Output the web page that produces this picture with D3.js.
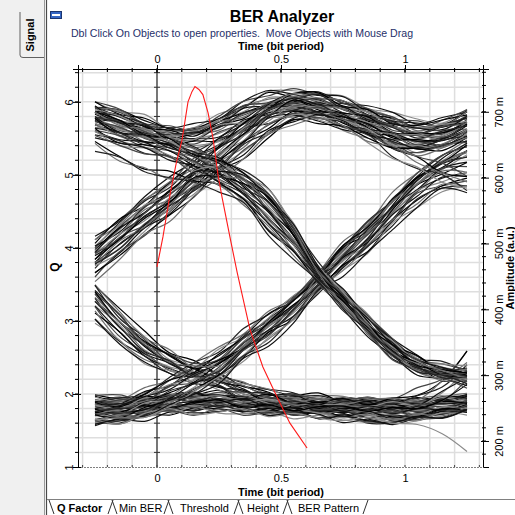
<!DOCTYPE html>
<html><head><meta charset="utf-8">
<script src="https://cdn.jsdelivr.net/npm/d3@7"></script>
<style>
body{margin:0;background:#fff;}
svg{display:block;font-family:"Liberation Sans",Arial,sans-serif;}
</style>
</head><body>
<svg id="c" width="515" height="515"></svg>
<script>
// ---------------- DATA ----------------
const timeTicks = [0, 0.5, 1];
const qTicks = [1, 2, 3, 4, 5, 6];
const ampTicks = [200, 300, 400, 500, 600, 700];
const tabNames = ["Q Factor", "Min BER", "Threshold", "Height", "BER Pattern"];

// times (bit period) at which the trace bundles were read
const sampleTimes = [-0.25,-0.15,-0.05,0.05,0.15,0.25,0.35,0.45,0.55,0.65,0.75,0.85,0.95,1.05,1.15,1.25];

// amplitude envelopes (m a.u.) of each bundle: upper edge / lower edge, and trace positions inside
const highHi   = [714,702,690,680,680,694,714,729,734,730,720,708,695,684,688,702];
const highLo   = [680,668,656,645,642,654,672,688,692,688,676,662,650,642,645,660];
const highFr   = [0,0.04,0.09,0.14,0.19,0.24,0.3,0.35,0.4,0.46,0.52,0.57,0.62,0.68,0.74,0.8,0.86,0.92,0.96,1];

const highFallHi = [706,694,682,672,672,686,704,718,718,710,694,676,655,635,618,605];
const highFallLo = [694,682,670,660,660,674,690,704,704,694,676,655,632,612,596,580];
const highFallFr = [0,0.25,0.5,0.75,1];

const rise1Hi  = [509,539,568,595,626,655,683,712,727,727,717,705,690,680,685,700];
const rise1Lo  = [448,480,511,539,570,602,632,662,683,686,674,660,646,638,642,655];
const rise1Fr  = [0,0.04,0.08,0.12,0.17,0.21,0.26,0.3,0.35,0.4,0.45,0.5,0.55,0.6,0.65,0.7,0.75,0.8,0.85,0.9,0.95,1];

const riseFallHi = [495,525,555,580,608,618,605,578,530,462,422,384,350,326,314,308];
const riseFallLo = [465,495,525,552,585,600,588,560,512,448,410,370,336,312,298,292];
const riseFallFr = [0,0.2,0.4,0.6,0.8,1];

const fall1Hi  = [702,689,677,664,645,630,608,577,527,467,429,391,353,327,315,311];
const fall1Lo  = [664,648,638,626,611,592,565,527,489,441,406,361,326,305,292,285];
const fall1Fr  = [0,0.04,0.08,0.13,0.17,0.22,0.27,0.32,0.37,0.42,0.47,0.52,0.57,0.62,0.67,0.72,0.77,0.82,0.87,0.92,0.96,1];

const fall1bHi = [653,634,616,606,598,586,562,524,486,446,410,372,338,314,302,296];
const fall1bLo = [641,626,610,600,592,580,556,518,480,440,404,366,332,308,296,290];
const fall1bFr = [0,0.5,1];

const lowHi    = [265,265,265,268,271,271,268,267,265,265,264,264,262,262,265,267];
const lowLo    = [226,229,235,241,244,247,244,241,238,235,232,230,229,232,238,244];
const lowFr    = [0,0.035,0.07,0.1,0.14,0.17,0.21,0.24,0.28,0.31,0.35,0.38,0.42,0.45,0.49,0.52,0.56,0.59,0.63,0.66,0.7,0.73,0.77,0.8,0.84,0.87,0.91,0.94,0.97,1];

const lowTail  = [232,234,238,243,246,248,246,243,240,237,234,232,230,221,206,189];

const fall0Hi  = [441,398,361,335,317,302,288,277,271,267,265,264,262,262,265,267];
const fall0Lo  = [380,348,320,302,289,277,265,256,247,240,236,233,231,233,238,244];
const fall0Fr  = [0,0.06,0.12,0.19,0.25,0.31,0.38,0.44,0.5,0.56,0.62,0.69,0.75,0.81,0.88,0.94,1];

const fallRiseHi = [428,388,352,330,320,326,352,382,412,452,496,530,570,604,628,648];
const fallRiseLo = [412,372,338,316,304,310,338,368,398,440,484,518,558,592,616,636];
const fallRiseFr = [0,0.33,0.67,1];

const rise2Hi  = [265,265,277,295,315,338,368,395,421,452,497,530,573,608,633,656];
const rise2Lo  = [226,229,238,255,270,289,320,350,383,426,456,485,523,558,580,580];
const rise2Fr  = [0,0.04,0.09,0.13,0.18,0.22,0.27,0.31,0.36,0.4,0.45,0.5,0.55,0.6,0.65,0.7,0.75,0.8,0.85,0.9,0.95,1];

const rise3Hi  = [265,265,265,268,271,271,268,267,265,265,264,264,266,275,300,341];
const rise3Lo  = [245,247,250,252,255,257,255,253,251,249,247,246,246,250,262,285];
const rise3Fr  = [0,0.15,0.3,0.45,0.6,0.75,0.9,1];

// small read-off jaggedness of the traces (m a.u.)
const traceWobble = [5,-3,6,-5,2,-1,4,-6,3,-2,0,5,-4,6,-3,1,-5,3,-1,4,-2,2,-6];

// Q factor versus decision time
const qTime  = [0,0.024,0.052,0.077,0.101,0.125,0.141,0.153,0.169,0.185,0.206,0.226,0.246,0.262,0.294,0.323,0.375,0.427,0.484,0.536,0.605];
const qValue = [3.74,4.15,4.72,5.15,5.48,6.0,6.14,6.21,6.17,6.1,5.85,5.5,5.0,4.7,4.15,3.67,2.88,2.37,1.96,1.6,1.26];

// ---------------- CHART ----------------
const svg = d3.select("#c");
const P = {left:78, right:483, top:69, bottom:467};
const x  = d3.scaleLinear().domain([-0.3185, 1.3145]).range([P.left, P.right]);
const yQ = d3.scaleLinear().domain([1, 6.45]).range([P.bottom, P.top]);
const yA = d3.scaleLinear().domain([160.5, 765]).range([P.bottom, P.top]);

// frame / window chrome
svg.append("rect").attr("width",515).attr("height",515).attr("fill","#fff");
svg.append("rect").attr("x",0).attr("y",0).attr("width",45).attr("height",515).attr("fill","#f0f0f0");
svg.append("line").attr("x1",44.5).attr("x2",44.5).attr("y1",0).attr("y2",515).attr("stroke","#9a9a9a");
svg.append("line").attr("x1",46.5).attr("x2",46.5).attr("y1",0).attr("y2",515).attr("stroke","#4a4a4a").attr("stroke-width",1.2);
svg.append("path").attr("d","M20,12 L20,55 Q20,57.5 23,57.5 L44,57.5").attr("fill","none").attr("stroke","#606060");
svg.append("text").attr("transform","translate(34,35) rotate(-90)").attr("text-anchor","middle")
  .attr("font-size",11).attr("font-weight","bold").text("Signal");
svg.append("rect").attr("x",50.5).attr("y",11.5).attr("width",11).attr("height",7).attr("fill","#3566c4").attr("stroke","#1b3570");
svg.append("rect").attr("x",52).attr("y",14).attr("width",8).attr("height",2).attr("fill","#fff");

// titles
svg.append("text").attr("x",282).attr("y",21.5).attr("text-anchor","middle").attr("font-size",16).attr("font-weight","bold").text("BER Analyzer");
svg.append("text").attr("x",242).attr("y",37).attr("text-anchor","middle").attr("font-size",10.6).attr("fill","#26306a")
  .style("white-space","pre").text("Dbl Click On Objects to open properties.  Move Objects with Mouse Drag");
svg.append("text").attr("x",281).attr("y",50).attr("text-anchor","middle").attr("font-size",11).attr("font-weight","bold").text("Time (bit period)");
svg.append("text").attr("x",281).attr("y",496).attr("text-anchor","middle").attr("font-size",11).attr("font-weight","bold").text("Time (bit period)");

// grid
const grid = svg.append("g");
d3.range(-3, 14).map(d => d/10).forEach(t => {
  grid.append("line").attr("x1",x(t)).attr("x2",x(t)).attr("y1",P.top).attr("y2",P.bottom)
    .attr("stroke","#dedede").attr("stroke-width",1.5);
});
d3.range(6, 33).map(d => d/5).forEach(q => {
  grid.append("line").attr("x1",P.left).attr("x2",P.right).attr("y1",yQ(q)).attr("y2",yQ(q))
    .attr("stroke","#dedede").attr("stroke-width",1.5);
});
grid.append("line").attr("x1",x(0)).attr("x2",x(0)).attr("y1",P.top).attr("y2",P.bottom).attr("stroke","#5a5a5a").attr("stroke-width",1.6);
d3.range(6, 33).map(d => d/5).forEach(q => {
  grid.append("line").attr("x1",x(0)-3).attr("x2",x(0)+3).attr("y1",yQ(q)).attr("y2",yQ(q)).attr("stroke","#333");
});

// clip
svg.append("clipPath").attr("id","clip").append("rect").attr("x",P.left).attr("y",P.top).attr("width",P.right-P.left).attr("height",P.bottom-P.top);
const traces = svg.append("g").attr("clip-path","url(#clip)");

const families = [
  {hi:lowHi, lo:lowLo, fr:lowFr},
  {hi:fall0Hi, lo:fall0Lo, fr:fall0Fr},
  {hi:rise3Hi, lo:rise3Lo, fr:rise3Fr},
  {hi:rise2Hi, lo:rise2Lo, fr:rise2Fr},
  {hi:fallRiseHi, lo:fallRiseLo, fr:fallRiseFr},
  {hi:highHi, lo:highLo, fr:highFr},
  {hi:highFallHi, lo:highFallLo, fr:highFallFr},
  {hi:rise1Hi, lo:rise1Lo, fr:rise1Fr},
  {hi:fall1Hi, lo:fall1Lo, fr:fall1Fr},
  {hi:fall1bHi, lo:fall1bLo, fr:fall1bFr},
  {hi:riseFallHi, lo:riseFallLo, fr:riseFallFr},
  {hi:lowTail, lo:lowTail, fr:[0]}
];
const line = d3.line().x(d => x(d[0])).y(d => yA(d[1])).curve(d3.curveCatmullRom.alpha(0.5));
const colors = ["#000","#6e6e6e","#222","#8a8a8a","#111","#444"];
let k = 0;
families.forEach((f, fi) => {
  f.fr.forEach((fr, j) => {
    const pts = sampleTimes.map((t, i) => {
      const v = f.hi[i] - (f.hi[i] - f.lo[i]) * fr;
      const w = traceWobble[(i*5 + j*7 + fi*3) % traceWobble.length];
      return [t, v + w];
    });
    traces.append("path").attr("d", line(pts)).attr("fill","none")
      .attr("stroke", colors[k % colors.length]).attr("stroke-width",1.2);
    k++;
  });
});

// Q factor curve
const qLine = d3.line().x((d,i) => x(qTime[i])).y(d => yQ(d));
traces.append("path").attr("d", qLine(qValue)).attr("fill","none").attr("stroke","#ff1a1a").attr("stroke-width",1.1);

// ---------------- AXES ----------------
const ax = svg.append("g").attr("font-size",11);
const topAx = ax.append("g").attr("transform",`translate(0,${P.top})`)
  .call(d3.axisTop(x).tickValues(timeTicks).tickFormat(d3.format("")).tickSize(4).tickPadding(2));
topAx.select(".domain").attr("stroke","#000");
topAx.selectAll("text").attr("font-size",11).attr("font-family","Liberation Sans, Arial");
d3.range(-3,14).map(d=>d/10).forEach(t=>{
  ax.append("line").attr("x1",x(t)).attr("x2",x(t)).attr("y1",P.top-1).attr("y2",P.top+3).attr("stroke","#000");
});
timeTicks.forEach(t=>{ax.append("line").attr("x1",x(t)).attr("x2",x(t)).attr("y1",P.top).attr("y2",P.top+4).attr("stroke","#000");});

const botAx = ax.append("g").attr("transform",`translate(0,${P.bottom})`)
  .call(d3.axisBottom(x).tickValues(timeTicks).tickFormat(d3.format("")).tickSize(0).tickPadding(7));
botAx.select(".domain").attr("stroke","#000").attr("stroke-dasharray","1,2");
botAx.selectAll("text").attr("font-size",11).attr("font-family","Liberation Sans, Arial");
d3.range(-3,14).map(d=>d/10).forEach(t=>{
  ax.append("line").attr("x1",x(t)).attr("x2",x(t)).attr("y1",P.bottom-2).attr("y2",P.bottom).attr("stroke","#444");
});

const leftAx = ax.append("g").attr("transform",`translate(${P.left},0)`)
  .call(d3.axisLeft(yQ).tickValues(qTicks).tickFormat(d3.format("d")).tickSize(5));
leftAx.select(".domain").attr("stroke","#000");
leftAx.selectAll(".tick text").attr("x",null).attr("dy",null).attr("text-anchor","middle")
  .attr("transform","translate(-5.5,0) rotate(-90)").attr("font-size",11).attr("font-family","Liberation Sans, Arial");
leftAx.selectAll(".tick line").attr("x1",3);
d3.range(6,33).map(d=>d/5).forEach(q=>{
  ax.append("line").attr("x1",P.left-3).attr("x2",P.left+1).attr("y1",yQ(q)).attr("y2",yQ(q)).attr("stroke","#000");
});
svg.append("text").attr("transform","translate(59,267) rotate(-90)").attr("text-anchor","middle")
  .attr("font-size",12).attr("font-weight","bold").text("Q");

const rightAx = ax.append("g").attr("transform",`translate(${P.right},0)`)
  .call(d3.axisRight(yA).tickValues(ampTicks).tickFormat(d => d + " m").tickSize(6));
rightAx.select(".domain").attr("stroke","#000");
rightAx.selectAll(".tick line").attr("x1",-2);
rightAx.selectAll(".tick text").attr("x",null).attr("dy",null).attr("text-anchor","middle")
  .attr("transform","translate(19.5,0) rotate(-90)").attr("font-size",11).attr("font-family","Liberation Sans, Arial");
d3.range(9,39).map(d=>d*20).forEach(a=>{
  ax.append("line").attr("x1",P.right-1).attr("x2",P.right+3).attr("y1",yA(a)).attr("y2",yA(a)).attr("stroke","#000");
});
svg.append("text").attr("transform","translate(514,268) rotate(-90)").attr("text-anchor","middle")
  .attr("font-size",11).attr("font-weight","bold").text("Amplitude (a.u.)");

// ---------------- TABS ----------------
const tabX = [57, 119, 180, 247, 298];
const tabs = svg.append("g");
tabs.append("line").attr("x1",47).attr("x2",515).attr("y1",499.5).attr("y2",499.5).attr("stroke","#808080");
tabs.append("path").attr("d","M49,500 L54,514 M108,514 L113,500 M112,500 L117,514 M164,514 L169,500 M168,500 L173,514 M234,514 L239,500 M238,500 L243,514 M283,514 L288,500 M287,500 L292,514 M363,514 L368,500")
  .attr("fill","none").attr("stroke","#303030");
tabNames.forEach((n,i)=>{
  tabs.append("text").attr("x",tabX[i]).attr("y",512).attr("font-size",11)
    .attr("font-weight", i===0 ? "bold" : "normal").text(n);
});
</script>
</body></html>
